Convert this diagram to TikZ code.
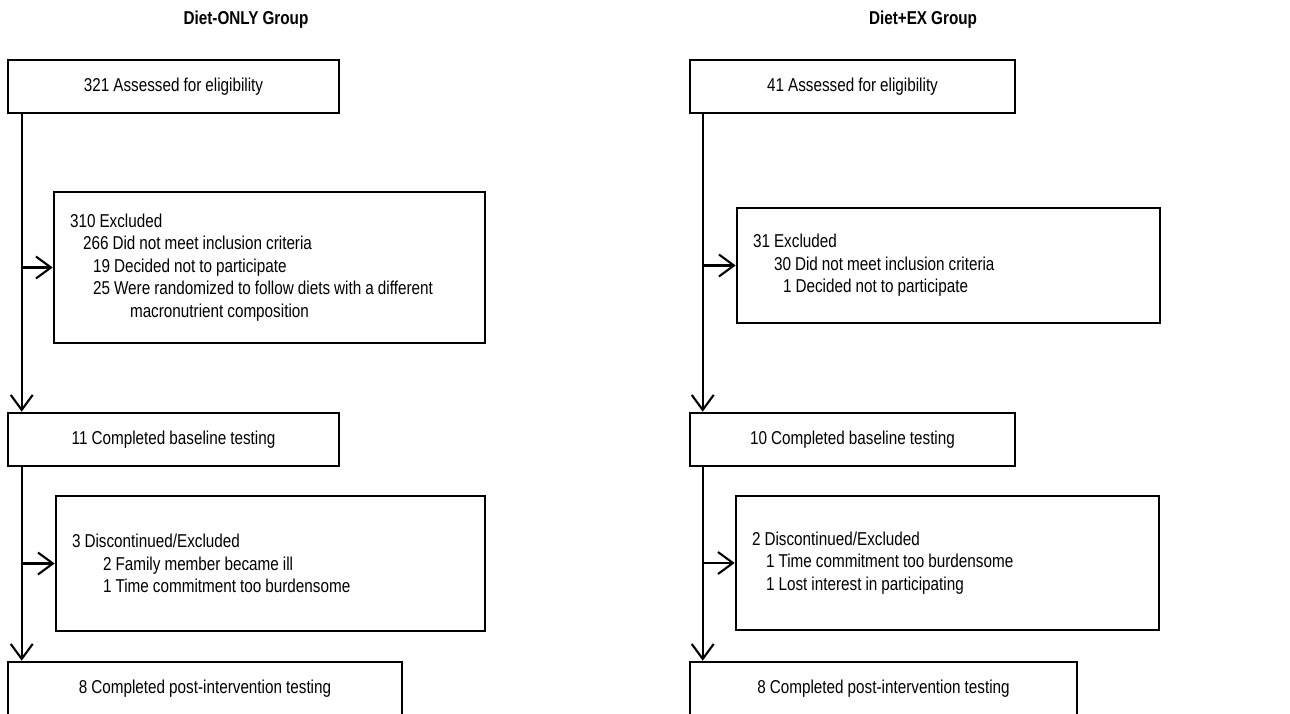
\documentclass[tikz,border=0pt]{standalone}
\usepackage{fontspec}
\setmainfont{Liberation Sans}[FakeStretch=0.82, WordSpace=0.95]
\usetikzlibrary{arrows.meta}

\begin{document}
\begin{tikzpicture}[x=0.02cm, y=-0.02cm, >={Straight Barb[length=0.3cm,width=0.44cm]}, line width=1.2pt,
    font=\fontsize{10.6}{12.8}\selectfont,
    box/.style={draw, line width=1.5pt, minimum height=1.06cm, inner sep=0pt},
    exbox/.style={draw, line width=1.5pt, align=flush left, inner xsep=0.32cm, inner ysep=0pt},
    title/.style={font=\fontsize{10.6}{12.8}\selectfont\bfseries}]
    \path[use as bounding box, clip] (0,0) rectangle (1290,713);

    % Diet-ONLY column
    \node[title] (ta) at (246,20) {Diet-ONLY Group};
    \node[box, minimum width=6.62cm] (a1) at (173.5,86.5) {321 Assessed for eligibility};
    \node[exbox, text width=7.98cm, minimum height=3.02cm] (a2) at (269.5,267.5) {310 Excluded\\
        \hspace*{0.26cm}266 Did not meet inclusion criteria\\
        \hspace*{0.46cm}19 Decided not to participate\\
        \hspace*{0.46cm}25 Were randomized to follow diets with a different\\
        \hspace*{1.2cm}macronutrient composition};
    \node[box, minimum width=6.62cm] (a3) at (173.5,439.5) {11 Completed baseline testing};
    \node[exbox, text width=7.94cm, minimum height=2.7cm] (a4) at (270.5,563.5) {3 Discontinued/Excluded\\
        \hspace*{0.62cm}2 Family member became ill\\
        \hspace*{0.62cm}1 Time commitment too burdensome};
    \node[box, minimum width=7.88cm] (a5) at (205,688.5) {8 Completed post-intervention testing};

    % Diet-ONLY connectors
    \coordinate (la) at ([xshift=0.3cm]a1.south west);
    \coordinate (lb) at ([xshift=0.3cm]a3.south west);
    \draw[->] (la) -- (la |- a3.north);
    \draw[->] (la |- a2.west) -- (a2.west);
    \draw[->] (lb) -- (lb |- a5.north);
    \draw[->] (lb |- a4.west) -- (a4.west);

    % Diet+EX column
    \node[title] (tb) at (923,20) {Diet+EX Group};
    \node[box, minimum width=6.5cm] (b1) at (852.5,86.5) {41 Assessed for eligibility};
    \node[exbox, text width=7.82cm, minimum height=2.3cm] (b2) at (948.5,265.5) {31 Excluded\\
        \hspace*{0.42cm}30 Did not meet inclusion criteria\\
        \hspace*{0.6cm}1 Decided not to participate};
    \node[box, minimum width=6.5cm] (b3) at (852.5,439.5) {10 Completed baseline testing};
    \node[exbox, text width=7.82cm, minimum height=2.68cm] (b4) at (947.5,563) {2 Discontinued/Excluded\\
        \hspace*{0.28cm}1 Time commitment too burdensome\\
        \hspace*{0.28cm}1 Lost interest in participating};
    \node[box, minimum width=7.74cm] (b5) at (883.5,688.5) {8 Completed post-intervention testing};

    % Diet+EX connectors
    \coordinate (ra) at ([xshift=0.28cm]b1.south west);
    \coordinate (rb) at ([xshift=0.28cm]b3.south west);
    \draw[->] (ra) -- (ra |- b3.north);
    \draw[->] (ra |- b2.west) -- (b2.west);
    \draw[->] (rb) -- (rb |- b5.north);
    \draw[->] (rb |- b4.west) -- (b4.west);
\end{tikzpicture}
\end{document}
